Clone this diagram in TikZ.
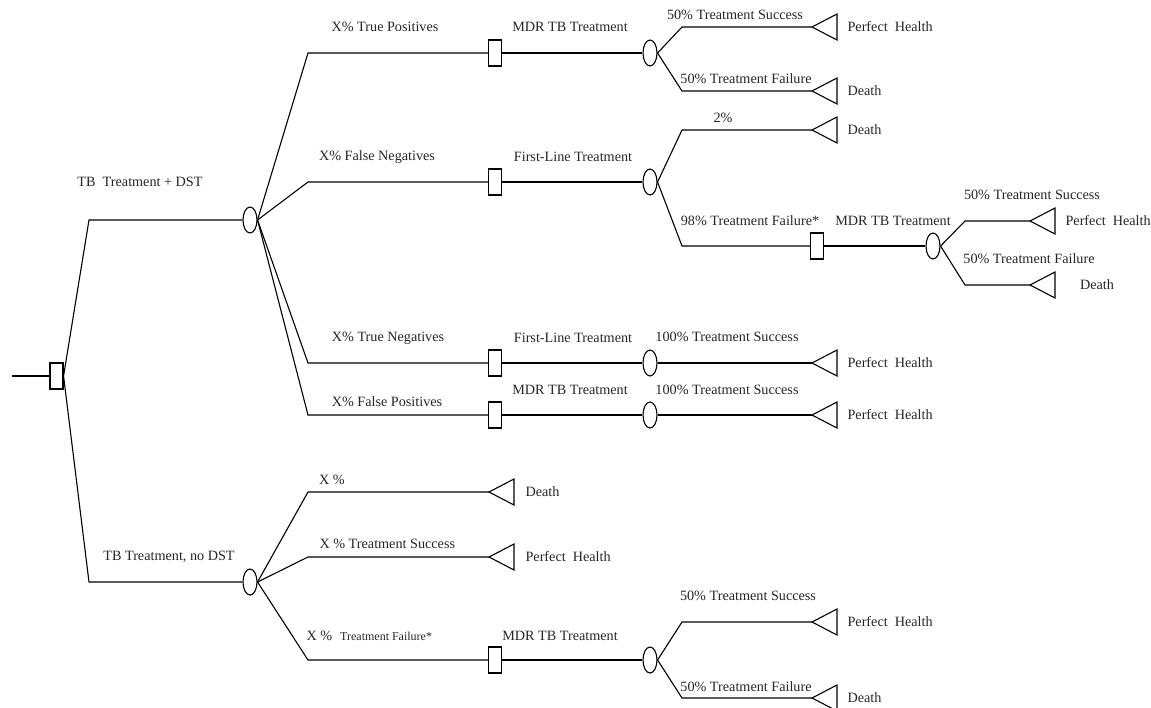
\documentclass[tikz,border=0pt]{standalone}
\usepackage{fontspec}
\setmainfont{Liberation Serif}
\usetikzlibrary{shapes.geometric}
\begin{document}
\begin{tikzpicture}[x=1pt,y=-1pt, line width=1.1pt,
  dec/.style={draw, rectangle, minimum width=13pt, minimum height=26pt, inner sep=0pt, fill=white},
  chance/.style={draw, ellipse, minimum width=14pt, minimum height=26pt, inner sep=0pt, fill=white},
  lbl/.style={inner sep=0pt, text=black!85, font=\fontsize{14.2}{16}\selectfont},
  lbll/.style={lbl, anchor=west},
  conn/.style={draw, line join=miter}]
\clip (0,0) rectangle (1151,707);
\useasboundingbox (0,0) rectangle (1151,707);

% decision and chance nodes
\node[dec] (s0) at (56.5,376) {};
\node[chance] (e1) at (250,220) {};
\node[chance] (e2) at (250,582) {};
\node[dec] (s1) at (495,53) {};
\node[chance] (c1) at (650,53) {};
\node[dec] (s2) at (495,182) {};
\node[chance] (c2) at (650,182) {};
\node[dec] (s3) at (817,246) {};
\node[chance] (c3) at (933,246) {};
\node[dec] (s4) at (495,363) {};
\node[chance] (c4) at (650,363) {};
\node[dec] (s5) at (495,415) {};
\node[chance] (c5) at (650,415) {};
\node[dec] (s6) at (495,660) {};
\node[chance] (c6) at (650,660) {};

% terminal nodes (triangles)
\foreach \n/\x/\y in {t1/812/27, t2/812/91, t3/812/130, t4/1030/221, t5/1030/285,
  t6/812/363, t7/812/415, t8/489/492, t9/489/557, t10/812/622, t11/812/698}{
  \coordinate (\n) at (\x,\y);
  \draw[line join=miter] (\n) -- ++(25,-13) -- ++(0,26) -- cycle;
}
\coordinate (root) at (12,376);

% connectors
\path[conn] (root) -- (s0.west);
\path[conn] (s0.east) -- (89,220) -- (e1.west);
\path[conn] (s0.east) -- (89,582) -- (e2.west);
% upper tree
\path[conn] (e1.east) -- (308,53) -- (s1.west);
\path[conn] (s1.east) -- (c1.west);
\path[conn] (c1.east) -- (682,27) -- (t1);
\path[conn] (c1.east) -- (682,91) -- (t2);
\path[conn] (e1.east) -- (308,182) -- (s2.west);
\path[conn] (s2.east) -- (c2.west);
\path[conn] (c2.east) -- (682,130) -- (t3);
\path[conn] (c2.east) -- (682,246) -- (s3.west);
\path[conn] (s3.east) -- (c3.west);
\path[conn] (c3.east) -- (965,221) -- (t4);
\path[conn] (c3.east) -- (965,285) -- (t5);
\path[conn] (e1.east) -- (308,363) -- (s4.west);
\path[conn] (s4.east) -- (c4.west);
\path[conn] (c4.east) -- (t6);
\path[conn] (e1.east) -- (308,415) -- (s5.west);
\path[conn] (s5.east) -- (c5.west);
\path[conn] (c5.east) -- (t7);
% lower tree
\path[conn] (e2.east) -- (308,492) -- (t8);
\path[conn] (e2.east) -- (308,557) -- (t9);
\path[conn] (e2.east) -- (308,660) -- (s6.west);
\path[conn] (s6.east) -- (c6.west);
\path[conn] (c6.east) -- (682,622) -- (t10);
\path[conn] (c6.east) -- (682,698) -- (t11);

% labels
\node[lbl] (l1) at (140,182) {TB\ \ Treatment + DST};
\node[lbl] (l2) at (169,557) {TB Treatment, no DST};

\node[lbl] (l3) at (385,27) {X\% True Positives};
\node[lbl] (l4) at (570,27) {MDR TB Treatment};
\node[lbl] (l5) at (735,15) {50\% Treatment Success};
\node[lbl] (l6) at (746,79) {50\% Treatment Failure};
\node[lbll] (l7) at (847,27) {Perfect\ \ Health};
\node[lbll] (l8) at (847,91) {Death};

\node[lbl] (l9) at (377,157) {X\% False Negatives};
\node[lbl] (l10) at (573,157) {First-Line Treatment};
\node[lbl] (l11) at (723,118) {2\%};
\node[lbll] (l12) at (847,130) {Death};
\node[lbl] (l13) at (750,221) {98\% Treatment Failure*};
\node[lbl] (l14) at (893,221) {MDR TB Treatment};
\node[lbl] (l15) at (1032,195) {50\% Treatment Success};
\node[lbl] (l16) at (1029,259) {50\% Treatment Failure};
\node[lbll] (l17) at (1065,221) {Perfect\ \ Health};
\node[lbl] (l18) at (1097,285) {Death};

\node[lbl] (l19) at (388,338) {X\% True Negatives};
\node[lbl] (l20) at (573,338) {First-Line Treatment};
\node[lbl] (l21) at (727,337) {100\% Treatment Success};
\node[lbll] (l22) at (847,363) {Perfect\ \ Health};
\node[lbl] (l23) at (387,402) {X\% False Positives};
\node[lbl] (l24) at (570,390) {MDR TB Treatment};
\node[lbl] (l25) at (727,390) {100\% Treatment Success};
\node[lbll] (l26) at (847,415) {Perfect\ \ Health};

\node[lbl] (l27) at (332,480) {X \%};
\node[lbll] (l28) at (525,492) {Death};
\node[lbll] (l29) at (319,544) {X \% Treatment Success};
\node[lbll] (l30) at (525,557) {Perfect\ \ Health};
\node[lbll] (l31) at (306,636) {X \%\hspace{8pt}{\fontsize{12}{14}\selectfont Treatment Failure*}};
\node[lbl] (l32) at (560,636) {MDR TB Treatment};
\node[lbl] (l33) at (748,596) {50\% Treatment Success};
\node[lbl] (l34) at (746,687) {50\% Treatment Failure};
\node[lbll] (l35) at (847,622) {Perfect\ \ Health};
\node[lbll] (l36) at (847,698) {Death};
\end{tikzpicture}
\end{document}
